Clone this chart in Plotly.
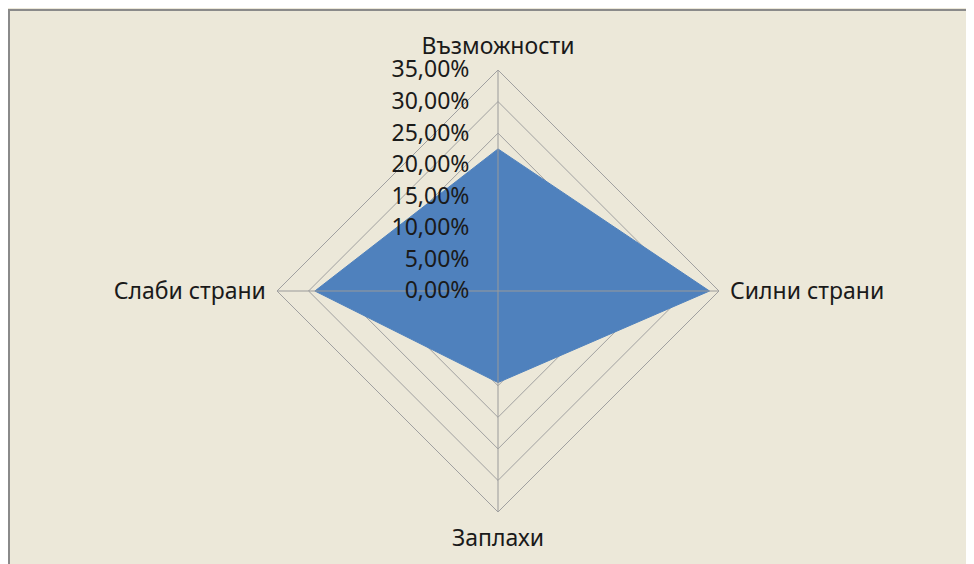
import plotly.graph_objects as go

categories = ["Възможности", "Силни страни", "Заплахи", "Слаби страни"]
values = [0.225, 0.335, 0.145, 0.29]
tick_values = [0.0, 0.05, 0.10, 0.15, 0.20, 0.25, 0.30, 0.35]
r_max = 0.35

# page body has an 8px margin; figure fills the rest of the window
W, H = 966, 556
cx, cy, rad = 490, 283, 221

fig = go.Figure()
fig.add_trace(go.Scatterpolar(
    r=values + [values[0]], theta=categories + [categories[0]],
    mode="lines", fill="toself", fillcolor="#4F81BD",
    line=dict(color="#4F81BD", width=1), hoverinfo="skip", showlegend=False,
))
# spokes drawn over the fill
for c in categories:
    fig.add_trace(go.Scatterpolar(
        r=[0, r_max], theta=[c, c], mode="lines",
        line=dict(color="#9a9a9a", width=1), hoverinfo="skip", showlegend=False,
    ))

font = "Noto Sans"
fs = 23
fig.update_layout(
    width=W, height=H,
    margin=dict(l=0, r=0, t=0, b=0),
    paper_bgcolor="#ECE8D9",
    separators=", ",
    font=dict(family=font, size=fs, color="#1a1a1a"),
    polar=dict(
        domain=dict(x=[(cx - rad) / W, (cx + rad) / W],
                    y=[(H - cy - rad) / H, (H - cy + rad) / H]),
        bgcolor="rgba(0,0,0,0)",
        gridshape="linear",
        radialaxis=dict(range=[0, r_max], tickvals=tick_values, tickformat=".2%",
                        angle=90, tickangle=90, side="counterclockwise",
                        showline=False, ticks="outside", ticklen=20,
                        tickcolor="rgba(0,0,0,0)", showgrid=True,
                        gridcolor="#a0a0a0", gridwidth=1,
                        tickfont=dict(family=font, size=fs, color="#1a1a1a")),
        angularaxis=dict(rotation=90, direction="clockwise",
                         categoryarray=categories, type="category",
                         showgrid=False, showline=True, linecolor="#a0a0a0",
                         linewidth=1, ticks="outside", ticklen=6,
                         tickcolor="rgba(0,0,0,0)",
                         tickfont=dict(family=font, size=fs, color="#1a1a1a")),
    ),
    shapes=[
        dict(type="line", xref="paper", yref="paper", x0=1 / W, x1=1, y0=1 - 2 / H, y1=1 - 2 / H,
             line=dict(color="#8a8a8a", width=2), layer="below"),
        dict(type="line", xref="paper", yref="paper", x0=1 / W, x1=1 / W, y0=0, y1=1 - 1 / H,
             line=dict(color="#8a8a8a", width=2), layer="below"),
    ],
)

fig.write_html("out.html")
